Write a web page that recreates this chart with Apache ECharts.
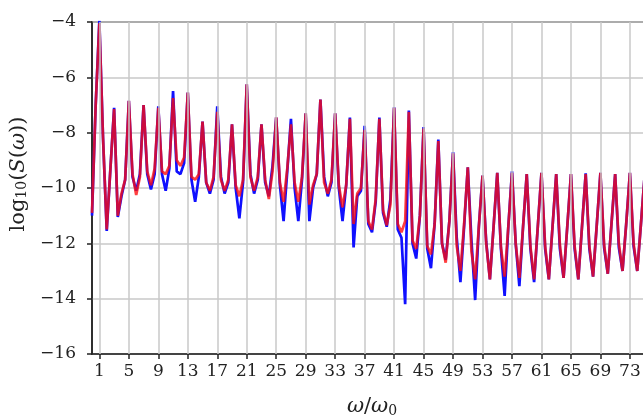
<!DOCTYPE html>
<html>
<head>
<meta charset="utf-8">
<script src="https://cdn.jsdelivr.net/npm/echarts@6/dist/echarts.min.js"></script>
<style>
  html, body { margin: 0; padding: 0; background: #fff; }
  #main { width: 643px; height: 419px; }
</style>
</head>
<body>
<div id="main"></div>
<script>
// harmonic order sampled every half step, 0 .. 76
var step = 0.5;
var xCount = 153;

// tick labels on the x axis
var xTicks = [1, 5, 9, 13, 17, 21, 25, 29, 33, 37, 41, 45, 49, 53, 57, 61, 65, 69, 73];

// log10 S(w), red curve
var redVals = [
    -10.9, -7.0, -4.05, -8.2, -11.5, -9.3, -7.15, -11.0,
    -10.2, -9.7, -6.85, -9.5, -10.25, -9.6, -7.0, -9.4,
    -9.9, -9.3, -7.1, -9.4, -9.5, -9.2, -6.75, -9.0,
    -9.2, -8.9, -6.55, -9.6, -9.7, -9.5, -7.6, -9.8,
    -10.1, -9.6, -7.25, -9.7, -10.1, -9.7, -7.7, -9.9,
    -10.3, -9.7, -6.25, -9.6, -10.1, -9.6, -7.7, -9.7,
    -10.4, -9.4, -7.45, -9.8, -10.5, -9.3, -7.7, -9.8,
    -10.5, -9.6, -7.3, -10.6, -9.9, -9.5, -6.8, -9.8,
    -10.2, -9.7, -7.3, -9.9, -10.7, -9.9, -7.5, -11.3,
    -10.2, -10.0, -7.9, -11.2, -11.5, -10.4, -7.5, -10.8,
    -11.35, -10.6, -7.1, -11.3, -11.6, -11.2, -7.25, -11.9,
    -12.2, -11.0, -7.85, -12.1, -12.4, -11.3, -8.3, -12.0,
    -12.7, -11.2, -8.75, -12.1, -13.0, -11.3, -9.25, -12.3,
    -13.3, -11.4, -9.55, -12.0, -13.3, -11.4, -9.45, -12.15,
    -13.2, -11.4, -9.45, -12.0, -13.25, -11.4, -9.5, -12.1,
    -13.3, -11.4, -9.45, -12.1, -13.3, -11.4, -9.5, -12.05,
    -13.25, -11.4, -9.5, -12.1, -13.3, -11.4, -9.5, -12.1,
    -13.2, -11.35, -9.45, -12.05, -13.1, -11.3, -9.5, -12.0,
    -13.0, -11.3, -9.45, -12.0, -13.0, -11.3, -9.55, -12.0,
    -13.0
];

// log10 S(w), blue curve
var blueVals = [
    -11.0, -7.0, -3.95, -8.2, -11.55, -9.3, -7.1, -11.05,
    -10.3, -9.7, -6.85, -9.6, -10.1, -9.5, -7.0, -9.5,
    -10.05, -9.5, -7.05, -9.5, -10.1, -9.3, -6.5, -9.4,
    -9.5, -9.1, -6.55, -9.7, -10.5, -9.6, -7.6, -9.8,
    -10.2, -9.7, -7.05, -9.6, -10.2, -9.8, -7.7, -10.0,
    -11.1, -9.8, -6.25, -9.5, -10.2, -9.7, -7.7, -9.8,
    -10.3, -9.2, -7.45, -9.9, -11.2, -9.4, -7.5, -10.0,
    -11.2, -9.7, -7.3, -11.2, -10.0, -9.5, -6.8, -9.6,
    -10.3, -9.8, -7.3, -10.0, -11.2, -9.9, -7.45, -12.15,
    -10.3, -10.1, -7.75, -11.3, -11.6, -10.5, -7.45, -10.9,
    -11.4, -10.4, -7.08, -11.5, -11.8, -14.2, -7.2, -12.0,
    -12.55, -11.0, -7.8, -12.2, -12.9, -11.3, -8.25, -12.0,
    -12.6, -11.2, -8.7, -11.8, -13.4, -11.4, -9.25, -11.9,
    -14.05, -11.4, -9.55, -11.95, -13.3, -11.4, -9.45, -12.2,
    -13.9, -11.4, -9.4, -12.0, -13.55, -11.4, -9.5, -12.2,
    -13.4, -11.4, -9.45, -12.2, -13.3, -11.4, -9.5, -12.2,
    -13.25, -11.4, -9.5, -12.2, -13.3, -11.4, -9.47, -12.2,
    -13.2, -11.35, -9.45, -12.15, -13.1, -11.3, -9.5, -12.15,
    -13.0, -11.3, -9.45, -12.1, -13.0, -11.3, -9.55, -12.0,
    -13.0
];

var xs = [];
for (var i = 0; i < xCount; i++) xs.push(i * step);

function pairs(vals) {
    return xs.map(function (x, i) { return [x, vals[i]]; });
}

var font = 'DejaVu Serif';
var chart = echarts.init(document.getElementById('main'));

var option = {
    animation: false,
    grid: {
        left: 92, top: 22, width: 560, height: 332,
        outerBoundsMode: 'none',
        containLabel: false,
        show: true, borderColor: '#222', borderWidth: 1.5,
        backgroundColor: 'transparent'
    },
    xAxis: {
        type: 'value',
        min: 0, max: 76,
        axisLine: { show: true, lineStyle: { color: '#222', width: 1.5 } },
        axisTick: { show: true, customValues: xTicks, length: 5, lineStyle: { color: '#222', width: 1.5 } },
        axisLabel: { customValues: xTicks, margin: 9, fontFamily: font, fontSize: 17, color: '#222' },
        splitLine: { show: false },
        name: '{i|ω}{n|/}{i|ω}{s|0}',
        nameLocation: 'middle',
        nameGap: 42,
        nameTextStyle: {
            rich: {
                i: { fontFamily: font, fontStyle: 'italic', fontSize: 21, color: '#222' },
                n: { fontFamily: font, fontSize: 21, color: '#222' },
                s: { fontFamily: font, fontSize: 14, color: '#222', verticalAlign: 'bottom', padding: [8, 0, 0, 0] }
            }
        }
    },
    yAxis: {
        type: 'value',
        min: -16, max: -4, interval: 2,
        axisLine: { show: true, lineStyle: { color: '#222', width: 1.5 } },
        axisTick: { show: true, length: 5, lineStyle: { color: '#222', width: 1.5 } },
        axisLabel: {
            margin: 16, fontFamily: font, fontSize: 17, color: '#222',
            formatter: function (v) { return String(v).replace('-', '\u2212'); }
        },
        splitLine: { show: true, lineStyle: { color: '#c8c8c8', width: 1.5 } },
        name: '{n|log}{s|10}{n|(}{i|S}{n|(}{i|ω}{n|))}',
        nameLocation: 'middle',
        nameGap: 54,
        nameTextStyle: {
            padding: [0, 0, 0, 28],
            rich: {
                i: { fontFamily: font, fontStyle: 'italic', fontSize: 21, color: '#222' },
                n: { fontFamily: font, fontSize: 21, color: '#222' },
                s: { fontFamily: font, fontSize: 14, color: '#222', verticalAlign: 'bottom', padding: [8, 0, 0, 0] }
            }
        }
    },
    series: [
        {
            // vertical grid lines at the x tick values
            name: 'grid', type: 'line', data: [], z: 1, silent: true,
            markLine: {
                silent: true, symbol: ['none', 'none'], animation: false,
                label: { show: false },
                lineStyle: { color: '#c8c8c8', width: 1.5, type: 'solid' },
                data: xTicks.map(function (v) { return { xAxis: v }; })
            }
        },
        {
            name: 'blue', type: 'line', data: pairs(blueVals), z: 2,
            showSymbol: false, smooth: false,
            lineStyle: { color: '#1010ff', width: 2.7 }
        },
        {
            name: 'red', type: 'line', data: pairs(redVals), z: 3,
            showSymbol: false, smooth: false,
            lineStyle: { color: '#ff0a0a', width: 2.7, opacity: 0.78 }
        }
    ]
};
chart.setOption(option);
</script>
</body>
</html>
